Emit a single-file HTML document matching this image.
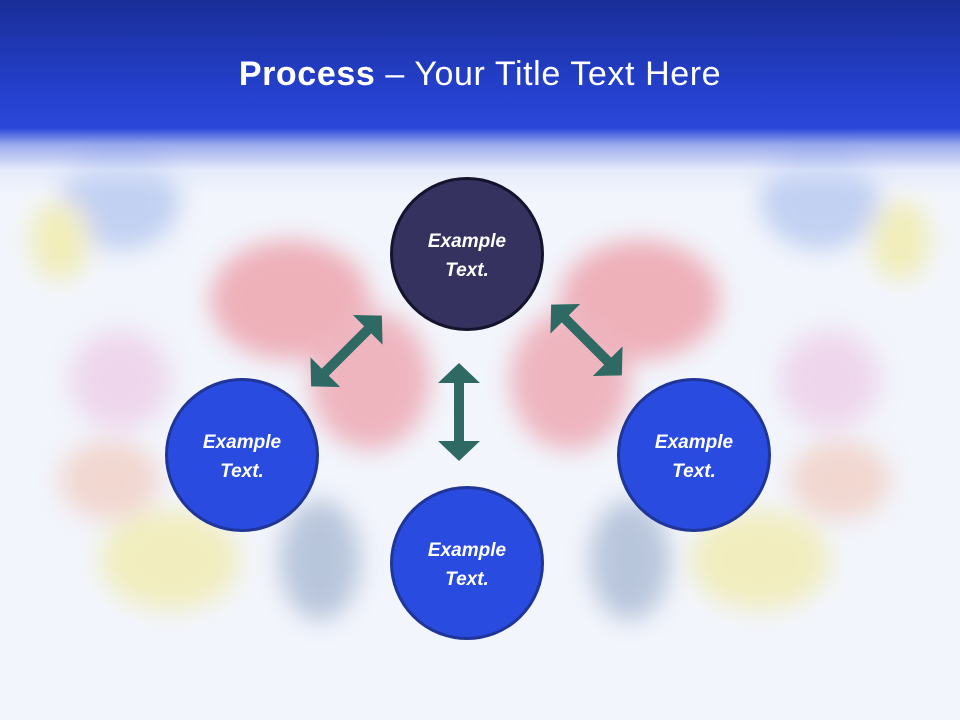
<!DOCTYPE html>
<html><head><meta charset="utf-8"><style>
html,body{margin:0;padding:0;}
body{width:960px;height:720px;overflow:hidden;background:#f2f5fc;font-family:"Liberation Sans",sans-serif;position:relative;}
.hdr{position:absolute;left:0;top:0;width:960px;height:200px;background:linear-gradient(to bottom,#1a2e98 0px,#2440cc 90px,#2a47da 128px,rgba(120,140,230,0.7) 145px,rgba(220,228,250,0.6) 170px,rgba(242,245,252,0) 195px);z-index:2;}
.title{position:absolute;top:55px;width:960px;text-align:center;color:#fff;font-size:34px;letter-spacing:0.6px;z-index:3;}
svg{position:absolute;left:0;top:0;}
.c{position:absolute;width:154px;height:154px;border-radius:50%;box-sizing:border-box;display:flex;align-items:center;justify-content:center;text-align:center;color:#fff;font-weight:bold;font-style:italic;font-size:19px;line-height:29px;padding-top:4px;z-index:4;}
.b{background:#2a4be0;border:3px solid #1f3597;}
.d{background:#35325f;border:3px solid #15132e;}
</style></head><body>
<svg width="960" height="720" style="z-index:1">
<defs><filter id="bl"><feGaussianBlur stdDeviation="12"/></filter></defs>
<g filter="url(#bl)" opacity="0.35">
<ellipse cx="290" cy="300" rx="80" ry="60" fill="#e83040"/>
<ellipse cx="640" cy="300" rx="80" ry="60" fill="#e83040"/>
<ellipse cx="370" cy="380" rx="60" ry="70" fill="#e84050"/>
<ellipse cx="570" cy="380" rx="60" ry="70" fill="#e84050"/>
<ellipse cx="120" cy="200" rx="60" ry="50" fill="#6a90e0"/>
<ellipse cx="820" cy="200" rx="60" ry="50" fill="#6a90e0"/>
<ellipse cx="60" cy="240" rx="30" ry="40" fill="#f0e040"/>
<ellipse cx="900" cy="240" rx="30" ry="40" fill="#f0e040"/>
<ellipse cx="120" cy="380" rx="50" ry="50" fill="#e8a0d0"/>
<ellipse cx="830" cy="380" rx="50" ry="50" fill="#e8a0d0"/>
<ellipse cx="170" cy="560" rx="70" ry="50" fill="#f0e050"/>
<ellipse cx="760" cy="560" rx="70" ry="50" fill="#f0e050"/>
<ellipse cx="320" cy="560" rx="40" ry="60" fill="#5070a0"/>
<ellipse cx="630" cy="560" rx="40" ry="60" fill="#5070a0"/>
<ellipse cx="110" cy="480" rx="50" ry="40" fill="#f0a080"/>
<ellipse cx="840" cy="480" rx="50" ry="40" fill="#f0a080"/>
</g>
<g fill="#2e6963">
<path transform="translate(459,412) rotate(90)" d="M-49 0 L-29 -21 L-29 -5 L29 -5 L29 -21 L49 0 L29 21 L29 5 L-29 5 L-29 21 Z"/>
<path transform="translate(346.5,351) rotate(-45)" d="M-50 0 L-30 -21 L-30 -5 L30 -5 L30 -21 L50 0 L30 21 L30 5 L-30 5 L-30 21 Z"/>
<path transform="translate(586.5,340) rotate(45)" d="M-50 0 L-30 -21 L-30 -5 L30 -5 L30 -21 L50 0 L30 21 L30 5 L-30 5 L-30 21 Z"/>
</g>
</svg>
<div class="hdr"></div>
<div class="title"><b>Process</b> – Your Title Text Here</div>
<div class="c d" style="left:390px;top:177px">Example<br>Text.</div>
<div class="c b" style="left:165px;top:378px">Example<br>Text.</div>
<div class="c b" style="left:617px;top:378px">Example<br>Text.</div>
<div class="c b" style="left:390px;top:486px">Example<br>Text.</div>
</body></html>
